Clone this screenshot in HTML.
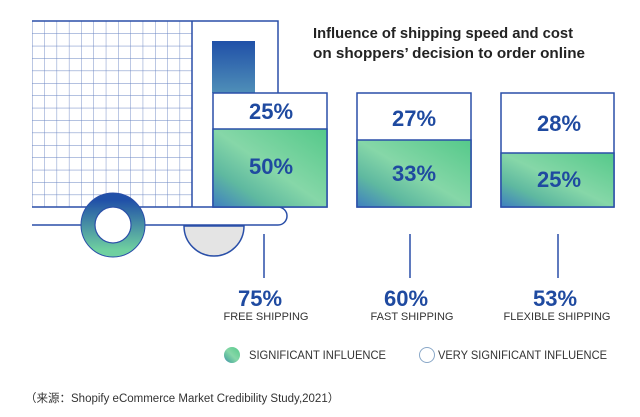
<!DOCTYPE html>
<html><head><meta charset="utf-8"><style>
html,body{margin:0;padding:0;background:#fff;width:640px;height:417px;overflow:hidden}
svg{display:block}
text{font-family:"Liberation Sans","Noto Sans CJK SC",sans-serif}
</style></head><body>
<svg width="640" height="417" viewBox="0 0 640 417" xmlns="http://www.w3.org/2000/svg">
<defs>
<linearGradient id="g" x1="0" y1="1" x2="1" y2="0">
<stop offset="0" stop-color="#3f7fc0"/><stop offset="0.25" stop-color="#5fb9a0"/><stop offset="0.5" stop-color="#86d7a8"/><stop offset="1" stop-color="#55c98a"/></linearGradient>
<linearGradient id="w" x1="0" y1="0" x2="0" y2="1"><stop offset="0" stop-color="#2050a8"/><stop offset="1" stop-color="#4f8fb8"/></linearGradient>
<linearGradient id="wh" x1="0" y1="0" x2="0" y2="1"><stop offset="0" stop-color="#2050a8"/><stop offset="1" stop-color="#6fd0a0"/></linearGradient>
<pattern id="grid" width="12.3" height="12.4" patternUnits="userSpaceOnUse" x="32" y="21">
<path d="M0 0V12.4M0 0H12.3" stroke="#2a4fa8" stroke-width="0.9" opacity="0.7" fill="none"/></pattern>
</defs>
<g stroke="#2a4fa8" stroke-width="1.5" fill="none">
<rect x="32" y="21" width="160" height="186" fill="url(#grid)" stroke="none"/>
<path d="M32 21H278V93"/>
<path d="M192 21V207"/>
<path d="M32 207H278a9 9 0 0 1 0 18H32"/>
</g>
<rect x="212" y="41" width="43" height="52" fill="url(#w)"/>
<path d="M184 226a30 30 0 0 0 60 0Z" fill="#e4e4e4" stroke="#2a4fa8" stroke-width="1.5"/>
<circle cx="113" cy="225" r="25" fill="none" stroke="url(#wh)" stroke-width="14"/>
<circle cx="113" cy="225" r="32" fill="none" stroke="#2a4fa8" stroke-width="1"/>
<circle cx="113" cy="225" r="18" fill="#fff" stroke="#2a4fa8" stroke-width="1.2"/>
<g stroke="#2a4fa8" stroke-width="1.5">
<rect x="213" y="93" width="114" height="114" fill="#fff"/><rect x="213" y="129" width="114" height="78" fill="url(#g)"/>
<rect x="357" y="93" width="114" height="114" fill="#fff"/><rect x="357" y="140" width="114" height="67" fill="url(#g)"/>
<rect x="501" y="93" width="113" height="114" fill="#fff"/><rect x="501" y="153" width="113" height="54" fill="url(#g)"/>
<path d="M264 234V278M410 234V278M558 234V278"/>
</g>
<g fill="#1f4aa0" font-weight="bold" font-size="22" text-anchor="middle">
<text x="271" y="119">25%</text><text x="271" y="174">50%</text>
<text x="414" y="126">27%</text><text x="414" y="181">33%</text>
<text x="559" y="131">28%</text><text x="559" y="187">25%</text>
<text x="260" y="306">75%</text><text x="406" y="306">60%</text><text x="555" y="306">53%</text>
</g>
<g fill="#333" font-size="11" text-anchor="middle">
<text x="266" y="320">FREE SHIPPING</text><text x="412" y="320">FAST SHIPPING</text><text x="557" y="320">FLEXIBLE SHIPPING</text>
</g>
<text x="313" y="38" font-size="14.5" font-weight="bold" fill="#222" textLength="260" lengthAdjust="spacingAndGlyphs">Influence of shipping speed and cost</text>
<text x="313" y="58" font-size="14.5" font-weight="bold" fill="#222" textLength="272" lengthAdjust="spacingAndGlyphs">on shoppers’ decision to order online</text>
<circle cx="232" cy="355" r="8" fill="url(#g)"/>
<text x="249" y="359" font-size="12" fill="#333" textLength="137" lengthAdjust="spacingAndGlyphs">SIGNIFICANT INFLUENCE</text>
<circle cx="427" cy="355" r="7.5" fill="#fff" stroke="#8aa8c8" stroke-width="1"/>
<text x="438" y="359" font-size="12" fill="#333" textLength="169" lengthAdjust="spacingAndGlyphs">VERY SIGNIFICANT INFLUENCE</text>
<text x="25" y="402" font-size="11.5" fill="#333">（来源：Shopify eCommerce Market Credibility Study,2021）</text>
</svg>
</body></html>
